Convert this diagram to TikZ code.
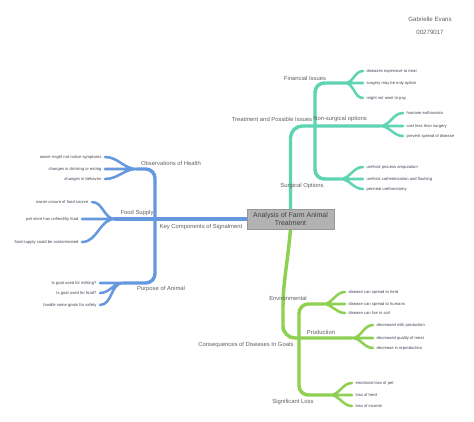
\documentclass[tikz,border=0pt]{standalone}
\usepackage{fontspec}
\setmainfont{Liberation Sans}
\usetikzlibrary{positioning,backgrounds}
\usepackage{xcolor}
\definecolor{branchTeal}{RGB}{94,212,178}
\definecolor{branchBlue}{RGB}{102,152,222}
\definecolor{branchGreen}{RGB}{142,208,82}
\definecolor{boxGray}{RGB}{178,178,178}
\definecolor{labelGray}{RGB}{95,95,95}
\definecolor{leafInk}{RGB}{62,68,82}

\begin{document}
\begin{tikzpicture}[
    x=0.75pt, y=-0.75pt,
    trunk/.style={line width=2.6pt, line cap=round},
    twig/.style={line width=1.9pt, line cap=round},
    topic/.style={font=\fontsize{4.4}{5}\selectfont, text=labelGray, inner sep=0pt},
    leafR/.style={anchor=west, font=\fontsize{3.1}{3.6}\selectfont, text=leafInk, inner xsep=2.5pt, inner ysep=1pt},
    leafL/.style={anchor=east, font=\fontsize{3.1}{3.6}\selectfont, text=leafInk, inner xsep=2.5pt, inner ysep=1pt},
    core/.style={fill=boxGray, draw=boxGray!85!black, line width=0.3pt, minimum width=65.25pt, minimum height=15pt, inner sep=1pt, align=center, font=\fontsize{5.2}{6.2}\selectfont, text=black!75},
    credit/.style={font=\fontsize{4.6}{5.5}\selectfont, text=labelGray, inner sep=0pt},
]
    \useasboundingbox (0,0) rectangle (474,421);

    \node[credit] (author) at (430,19) {Gabrielle Evans};
    \node[credit] (sid) at (430,32) {00279017};

    \node[core] (core) at (290.5,219) {Analysis of Farm Animal\\Treatment};

    % topic labels
    \node[topic] (fin) at (305,78) {Financial Issues};
    \node[topic] (treat) at (272,119) {Treatment and Possible Issues};
    \node[topic] (nonsurg) at (340,119) {Non-surgical options};
    \node[topic] (surg) at (302,186) {Surgical Options};
    \node[topic] (keycomp) at (201,227) {Key Components of Signalment};
    \node[topic] (obs) at (171,163) {Observations of Health};
    \node[topic] (food) at (137,213) {Food Supply};
    \node[topic] (purp) at (161,289) {Purpose of Animal};
    \node[topic] (env) at (288,298) {Environmental};
    \node[topic] (prod) at (321,332) {Production};
    \node[topic] (conseq) at (246,345) {Consequences of Diseases In Goats};
    \node[topic] (loss) at (293,402) {Significant Loss};

    % junctions
    \coordinate (finj) at (345,83);
    \coordinate (nsj) at (380,126);
    \coordinate (surj) at (340,179);
    \coordinate (tealbend) at (315,126);
    \coordinate (obsj) at (137,169);
    \coordinate (foodj) at (115,219);
    \coordinate (purpj) at (123,283);
    \coordinate (bluebend) at (155,219);
    \coordinate (envj) at (323,304);
    \coordinate (prodj) at (352,338);
    \coordinate (lossj) at (330,395);
    \coordinate (greenbend) at (283,318);
    \coordinate (greenstem) at (299,338);

    % leaves
    \node[leafR] (fin1) at (363,71) {diseases expensive to treat};
    \node[leafR] (fin2) at (363,83) {surgery may be only option};
    \node[leafR] (fin3) at (363,98) {might not want to pay};
    \node[leafR] (ns1) at (403,113) {humane euthanasia};
    \node[leafR] (ns2) at (403,126) {cost less than surgery};
    \node[leafR] (ns3) at (403,136) {prevent spread of disease};
    \node[leafR] (sur1) at (363,167) {urethral process amputation};
    \node[leafR] (sur2) at (363,179) {urethral catheterization and flushing};
    \node[leafR] (sur3) at (363,189) {perineal urethrostomy};

    \node[leafL] (obs1) at (105,157) {owner might not notice symptoms};
    \node[leafL] (obs2) at (105,169) {changes in drinking or eating};
    \node[leafL] (obs3) at (105,179) {changes in behavior};
    \node[leafL] (food1) at (92,202) {owner unsure of food source};
    \node[leafL] (food2) at (82,219) {pet store has unhealthy food};
    \node[leafL] (food3) at (82,242) {food supply could be contaminated};
    \node[leafL] (purp1) at (100,283) {Is goat used for milking?};
    \node[leafL] (purp2) at (100,293) {Is goat used for food?};
    \node[leafL] (purp3) at (100,305) {handle some goats for safety};

    \node[leafR] (env1) at (345,292) {disease can spread to herd};
    \node[leafR] (env2) at (345,304) {disease can spread to humans};
    \node[leafR] (env3) at (345,313) {disease can live in soil};
    \node[leafR] (prod1) at (373,325) {decreased milk production};
    \node[leafR] (prod2) at (373,338) {decreased quality of meat};
    \node[leafR] (prod3) at (373,348) {decrease in reproduction};
    \node[leafR] (loss1) at (352,383) {emotional loss of pet};
    \node[leafR] (loss2) at (352,395) {loss of herd};
    \node[leafR] (loss3) at (352,406) {loss of income};

    \begin{scope}[on background layer]
        \draw[trunk, branchTeal, rounded corners=9pt] (core.north) |- (nsj);
        \draw[trunk, branchTeal, rounded corners=7pt] (finj) -| (tealbend) |- (surj);
        \draw[twig, branchTeal] (finj) to[out=0,in=180] (fin1.west) (finj) -- (fin2.west) (finj) to[out=0,in=180] (fin3.west);
        \draw[twig, branchTeal] (nsj) to[out=0,in=180] (ns1.west) (nsj) -- (ns2.west) (nsj) to[out=0,in=180] (ns3.west);
        \draw[twig, branchTeal] (surj) to[out=0,in=180] (sur1.west) (surj) -- (sur2.west) (surj) to[out=0,in=180] (sur3.west);

        \draw[trunk, branchBlue] (core.west) -- (foodj);
        \draw[trunk, branchBlue, rounded corners=7pt] (obsj) -| (bluebend) |- (purpj);
        \draw[twig, branchBlue] (obsj) to[out=180,in=0] (obs1.east) (obsj) -- (obs2.east) (obsj) to[out=180,in=0] (obs3.east);
        \draw[twig, branchBlue] (foodj) to[out=180,in=0] (food1.east) (foodj) -- (food2.east) (foodj) to[out=180,in=0] (food3.east);
        \draw[twig, branchBlue] (purpj) -- (purp1.east) (purpj) to[out=180,in=0] (purp2.east) (purpj) to[out=180,in=0] (purp3.east);

        \draw[trunk, branchGreen, rounded corners=9pt] (core.south) to[out=-95,in=90] (greenbend) |- (prodj);
        \draw[trunk, branchGreen, rounded corners=7pt] (envj) -| (greenstem) |- (lossj);
        \draw[twig, branchGreen] (envj) to[out=0,in=180] (env1.west) (envj) -- (env2.west) (envj) to[out=0,in=180] (env3.west);
        \draw[twig, branchGreen] (prodj) to[out=0,in=180] (prod1.west) (prodj) -- (prod2.west) (prodj) to[out=0,in=180] (prod3.west);
        \draw[twig, branchGreen] (lossj) to[out=0,in=180] (loss1.west) (lossj) -- (loss2.west) (lossj) to[out=0,in=180] (loss3.west);
    \end{scope}
\end{tikzpicture}
\end{document}
